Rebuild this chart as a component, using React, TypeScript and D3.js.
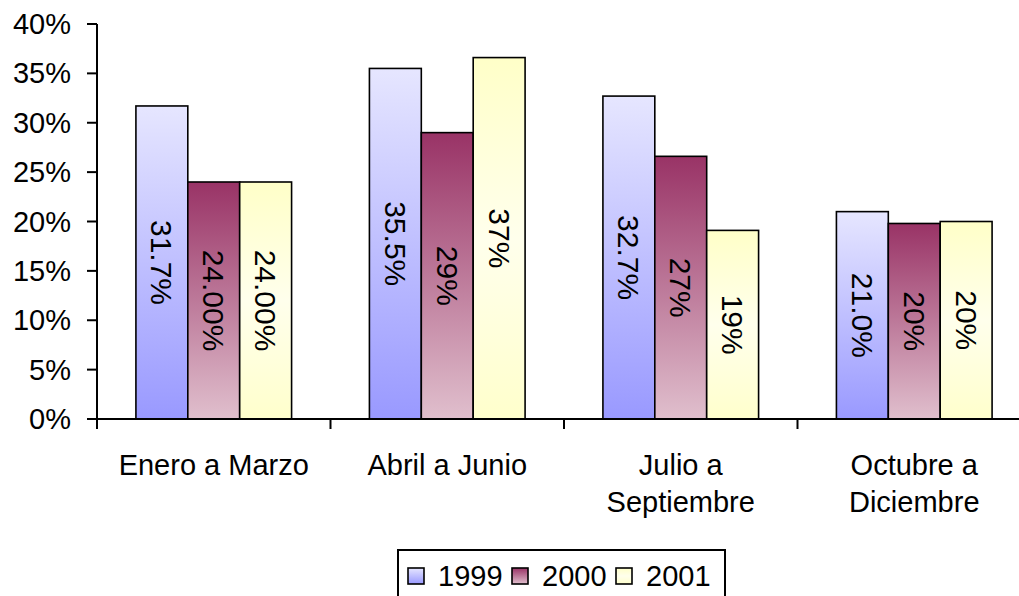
import React from "react";
import * as d3 from "d3";

// Quarterly shares by year
const categories: string[][] = [
  ["Enero a Marzo"],
  ["Abril a Junio"],
  ["Julio a", "Septiembre"],
  ["Octubre a", "Diciembre"],
];
const years = ["1999", "2000", "2001"];
const values1999 = [0.317, 0.355, 0.327, 0.21];
const values2000 = [0.24, 0.29, 0.266, 0.198];
const values2001 = [0.24, 0.366, 0.191, 0.2];
const labelFormats1999 = [".1%", ".1%", ".1%", ".1%"];
const labelFormats2000 = [".2%", ".0%", ".0%", ".0%"];
const labelFormats2001 = [".2%", ".0%", ".0%", ".0%"];
const yTicks = [0, 0.05, 0.1, 0.15, 0.2, 0.25, 0.3, 0.35, 0.4];

const seriesValues = [values1999, values2000, values2001];
const seriesFormats = [labelFormats1999, labelFormats2000, labelFormats2001];

// gradient stops per series (top -> bottom)
const gradients = [
  { id: "g1999", stops: [["0%", "#E6E6FF"], ["100%", "#9999FF"]] },
  { id: "g2000", stops: [["0%", "#993366"], ["100%", "#E0BFCD"]] },
  { id: "g2001", stops: [["0%", "#FFFFC8"], ["50%", "#FFFFEC"], ["100%", "#FFFFCC"]] },
];

const W = 1019;
const H = 596;
const FONT = "'Liberation Sans', Arial, Helvetica, sans-serif";

export default function App() {
  const left = 97;
  const band = 233.5;
  const x = d3
    .scaleBand<number>()
    .domain(d3.range(categories.length))
    .range([left, left + band * categories.length])
    .paddingInner(0)
    .paddingOuter(0);
  const xi = d3
    .scaleBand<string>()
    .domain(years)
    .range([0, x.bandwidth()])
    .paddingInner(0)
    .paddingOuter(0.75);
  const y = d3.scaleLinear().domain([0, 0.4]).range([419, 24]);
  const yFmt = d3.format(".0%");

  const legendStart = 408;
  const legendStep = 104;

  return (
    <svg
      width={W}
      height={H}
      viewBox={`0 0 ${W} ${H}`}
      style={{ position: "absolute", left: 0, top: 0, background: "#fff" }}
      fontFamily={FONT}
    >
      <defs>
        {gradients.map((g) => (
          <linearGradient key={g.id} id={g.id} x1="0" y1="0" x2="0" y2="1">
            {g.stops.map(([o, c]) => (
              <stop key={o} offset={o} stopColor={c} />
            ))}
          </linearGradient>
        ))}
      </defs>

      {/* bars */}
      {years.map((yr, si) =>
        seriesValues[si].map((v, ci) => {
          const bx = (x(ci) as number) + (xi(yr) as number);
          const by = y(v);
          return (
            <rect
              key={`${yr}-${ci}`}
              x={bx}
              y={by}
              width={xi.bandwidth()}
              height={y(0) - by}
              fill={`url(#${gradients[si].id})`}
              stroke="#000"
              strokeWidth={1.6}
            />
          );
        })
      )}

      {/* value labels, rotated inside the bars */}
      {years.map((yr, si) =>
        seriesValues[si].map((v, ci) => {
          const cx = (x(ci) as number) + (xi(yr) as number) + xi.bandwidth() / 2;
          const cy = (y(v) + y(0)) / 2;
          return (
            <text
              key={`l-${yr}-${ci}`}
              transform={`translate(${cx},${cy}) rotate(90)`}
              textAnchor="middle"
              dominantBaseline="central"
              fontSize={30}
              fill="#000"
            >
              {d3.format(seriesFormats[si][ci])(v)}
            </text>
          );
        })
      )}

      {/* y axis */}
      <line x1={left} x2={left} y1={y(0.4)} y2={y(0)} stroke="#000" strokeWidth={2} />
      {yTicks.map((t) => (
        <g key={t}>
          <line x1={left - 10} x2={left} y1={y(t)} y2={y(t)} stroke="#000" strokeWidth={2} />
          <text
            x={71}
            y={y(t)}
            textAnchor="end"
            dominantBaseline="central"
            fontSize={29}
            fill="#000"
          >
            {yFmt(t)}
          </text>
        </g>
      ))}

      {/* x axis */}
      <line x1={left} x2={W} y1={y(0)} y2={y(0)} stroke="#000" strokeWidth={2} />
      {d3.range(categories.length).map((i) => (
        <line
          key={`xt-${i}`}
          x1={x(i) as number}
          x2={x(i) as number}
          y1={y(0)}
          y2={y(0) + 10}
          stroke="#000"
          strokeWidth={2}
        />
      ))}
      {categories.map((lines, i) => (
        <text
          key={`c-${i}`}
          x={(x(i) as number) + x.bandwidth() / 2}
          y={475}
          textAnchor="middle"
          fontSize={29}
          fill="#000"
        >
          {lines.map((ln, k) => (
            <tspan key={k} x={(x(i) as number) + x.bandwidth() / 2} dy={k === 0 ? 0 : 37}>
              {ln}
            </tspan>
          ))}
        </text>
      ))}

      {/* legend */}
      <rect x={398} y={550} width={327} height={54} fill="#fff" stroke="#000" strokeWidth={2} />
      {years.map((yr, si) => {
        const lx = legendStart + si * legendStep;
        return (
          <g key={`lg-${yr}`}>
            <rect
              x={lx}
              y={568}
              width={16}
              height={16}
              fill={`url(#${gradients[si].id})`}
              stroke="#000"
              strokeWidth={1.6}
            />
            <text x={lx + 30} y={586} fontSize={29} fill="#000">
              {yr}
            </text>
          </g>
        );
      })}
    </svg>
  );
}
